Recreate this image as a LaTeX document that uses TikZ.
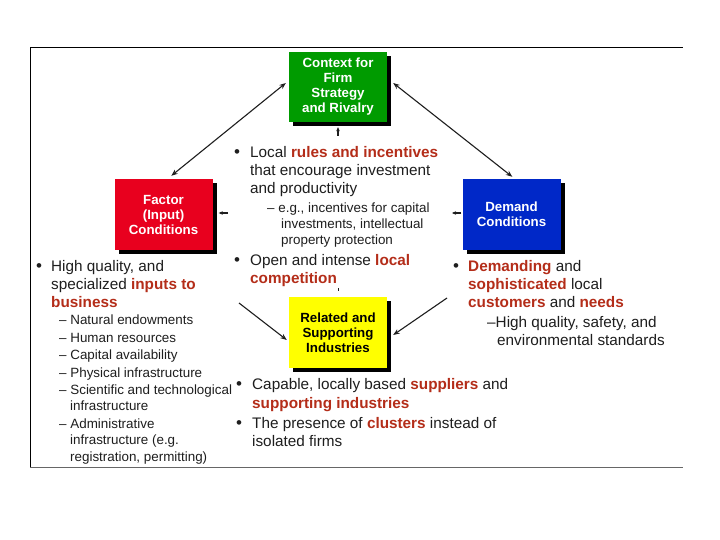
\documentclass[tikz,border=0pt]{standalone}
\usepackage{fontspec}
\setmainfont{Liberation Sans}
\usetikzlibrary{arrows.meta,shadows}
\definecolor{hl}{RGB}{180,45,25}
\definecolor{ctxgreen}{RGB}{0,155,0}
\definecolor{facred}{RGB}{232,0,30}
\definecolor{demblue}{RGB}{0,40,200}
\definecolor{relyellow}{RGB}{255,255,0}
\definecolor{ink}{RGB}{30,30,30}
\newcommand\hi[1]{\textcolor{hl}{\bfseries #1}}
\newcommand\bulA{\makebox[15pt][l]{\hspace{-1pt}\raisebox{0pt}{\fontsize{17}{17}\selectfont •}}}
\newcommand\bulB{\makebox[14pt][l]{\hspace{-1pt}\raisebox{0pt}{\fontsize{17}{17}\selectfont •}}}
\begin{document}
\begin{tikzpicture}[x=1pt,y=-1pt,
  box/.style={minimum width=98pt,minimum height=70pt,inner sep=0pt,align=center,
    font=\fontsize{13.3}{15}\selectfont\bfseries,
    drop shadow={shadow xshift=4pt,shadow yshift=-4pt,fill=black,opacity=1}},
  t/.style={anchor=base west,inner sep=0pt,font=\fontsize{15.3}{17}\selectfont,text=ink},
  s/.style={anchor=base west,inner sep=0pt,font=\fontsize{13.4}{15}\selectfont,text=ink},
  conn/.style={draw=ink,line width=1.1pt},
  tip/.style={-{Stealth[length=6.5pt,width=5pt]}},
  tips/.style={{Stealth[length=6.5pt,width=5pt]}-{Stealth[length=6.5pt,width=5pt]}},
  small/.style={-{Stealth[length=4pt,width=3.5pt]}}]
\useasboundingbox (0,0) rectangle (720,540);
\fill[white] (0,0) rectangle (720,540);
% frame
\draw[line width=1pt,black] (30,48) -- (683,48);
\draw[line width=1pt,black] (30,48) -- (30,467);
\draw[line width=1pt,black!60] (30,467) -- (683,467);
% boxes
\node[box,fill=ctxgreen,text=white] (ctx) at (338,87) {Context for\\Firm\\Strategy\\and Rivalry};
\node[box,fill=facred,text=white,minimum height=71pt] (fac) at (163.5,214.5) {Factor\\(Input)\\Conditions};
\node[box,fill=demblue,text=white,minimum height=71pt] (dem) at (511.5,214.5) {Demand\\Conditions};
\node[box,fill=relyellow,text=black,minimum height=71pt] (rel) at (338,332.5) {Related and\\Supporting\\Industries};
% connectors
\draw[conn,tips] ([xshift=57pt,yshift=3pt]fac.north west) -- ([xshift=-3pt,yshift=4pt]ctx.west);
\draw[conn,tips] ([xshift=6pt,yshift=4pt]ctx.east) -- ([xshift=50pt,yshift=2pt]dem.north west);
\coordinate (fs) at (239,303);
\coordinate (ds) at (447,298);
\draw[conn,tip] (fs) -- ([xshift=-2pt,yshift=-7.5pt]rel.west);
\draw[conn,tip] (ds) -- ([xshift=6pt,yshift=-2.5pt]rel.east);
\coordinate (cs) at (338,136);
\draw[conn,small] (cs) -- ([yshift=-5pt]ctx.south);
\coordinate (fsm) at (228,213);
\draw[conn,small] (fsm) -- ([xshift=6pt,yshift=1.5pt]fac.east);
\coordinate (dsm) at (452,213);
\draw[conn,small] ([xshift=-1pt,yshift=1.5pt]dem.west) -- (dsm);
\coordinate (rsm) at (338,288);
\draw[draw=ink,line width=0.8pt] (rsm) -- ([yshift=6pt]rel.north);
% middle text
\node[t] (m1) at (235,158) {\bulA Local \hi{rules and incentives}};
\node[t] (m2) at (250,176) {that encourage investment};
\node[t] (m3) at (250,194) {and productivity};
\node[s] (m4) at (267,212.5) {–\ e.g., incentives for capital};
\node[s] (m5) at (281,228.5) {investments, intellectual};
\node[s] (m6) at (281,244.5) {property protection};
\node[t] (m7) at (235,265) {\bulA Open and intense \hi{local}};
\node[t] (m8) at (250,283) {\hi{competition}};
% left text
\node[t] (l1) at (37,271) {\bulB High quality, and};
\node[t] (l2) at (51,289) {specialized \hi{inputs to}};
\node[t] (l3) at (51,307) {\hi{business}};
\node[s] (l4) at (59,324.5) {–\ Natural endowments};
\node[s] (l5) at (59,342.5) {–\ Human resources};
\node[s] (l6) at (59,359.5) {–\ Capital availability};
\node[s] (l7) at (59,377.5) {–\ Physical infrastructure};
\node[s] (l8) at (59,394.5) {–\ Scientific and technological};
\node[s] (l9) at (70,410.5) {infrastructure};
\node[s] (l10) at (59,428.5) {–\ Administrative};
\node[s] (l11) at (70,444.5) {infrastructure (e.g.};
\node[s] (l12) at (70,461.5) {registration, permitting)};
% right text
\node[t] (r1) at (454,271) {\bulB \hi{Demanding} and};
\node[t] (r2) at (468,289) {\hi{sophisticated} local};
\node[t] (r3) at (468,307) {\hi{customers} and \hi{needs}};
\node[t] (r4) at (487,327) {–High quality, safety, and};
\node[t] (r5) at (497,345) {environmental standards};
% bottom text
\node[t] (b1) at (237,389) {\bulA Capable, locally based \hi{suppliers} and};
\node[t] (b2) at (252,408) {\hi{supporting industries}};
\node[t] (b3) at (237,428) {\bulA The presence of \hi{clusters} instead of};
\node[t] (b4) at (252,446) {isolated firms};
\end{tikzpicture}
\end{document}
